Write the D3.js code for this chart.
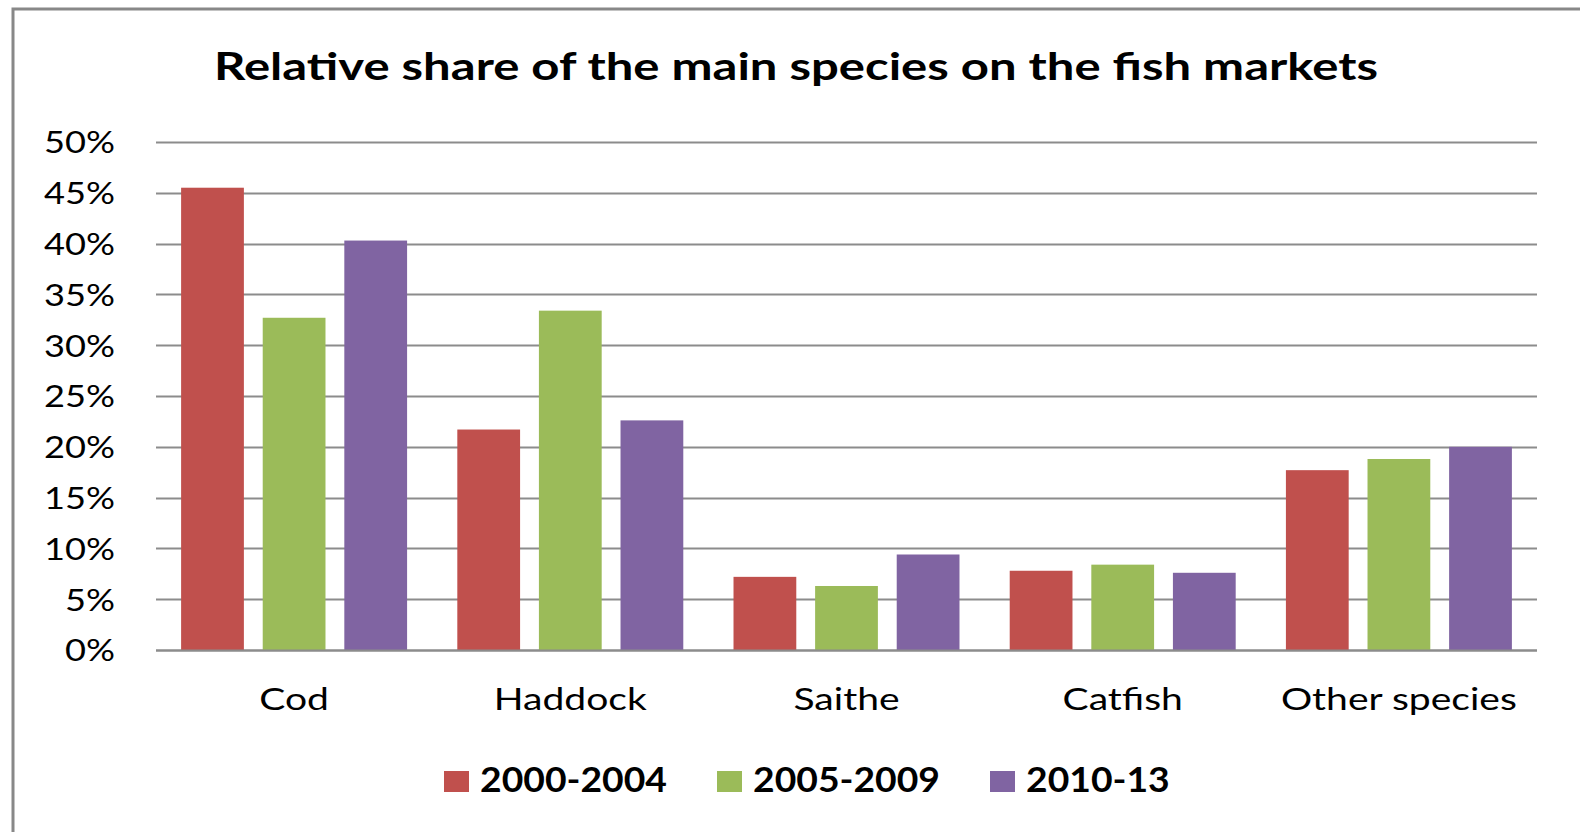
<!DOCTYPE html>
<html>
<head>
<meta charset="utf-8">
<script src="https://cdnjs.cloudflare.com/ajax/libs/d3/7.8.5/d3.min.js"></script>
<style>
  html, body { margin: 0; padding: 0; background: #fff; overflow: hidden; }
  text { font-family: Lato, "Open Sans", sans-serif; fill: #000; }
</style>
</head>
<body>
<svg id="fish-chart"></svg>
<script>
// data
const species = ["Cod", "Haddock", "Saithe", "Catfish", "Other species"];
const periods = ["2000-2004", "2005-2009", "2010-13"];
const share2000_2004 = [45.5, 21.7, 7.2, 7.8, 17.7];
const share2005_2009 = [32.7, 33.4, 6.3, 8.4, 18.8];
const share2010_13 = [40.3, 22.6, 9.4, 7.6, 20.0];
const yTicks = [0, 5, 10, 15, 20, 25, 30, 35, 40, 45, 50];
const colors = ["#c0504d", "#9bbb59", "#8064a2"];

const seriesValues = [share2000_2004, share2005_2009, share2010_13];

const W = 1580, H = 832;
const plot = { left: 156, right: 1537, top: 142, bottom: 650 };

const svg = d3.select("#fish-chart")
    .attr("width", W)
    .attr("height", H);

// outer frame (runs off the right and bottom edge in the original)
svg.append("rect")
    .attr("x", 13)
    .attr("y", 9)
    .attr("width", 1700)
    .attr("height", 1000)
    .attr("fill", "#fff")
    .attr("stroke", "#888888")
    .attr("stroke-width", 3);

// squeeze/stretch a group of labels so that one reference label hits its target width
function fitWidth(sel, refIndex, target) {
    const nodes = sel.nodes();
    const k = target / nodes[refIndex].getComputedTextLength();
    nodes.forEach(n => {
        const w = n.getComputedTextLength();
        d3.select(n).attr("textLength", w * k).attr("lengthAdjust", "spacingAndGlyphs");
    });
    return k;
}

const title = svg.append("text")
    .attr("x", 796)
    .attr("y", 80)
    .attr("text-anchor", "middle")
    .style("font-size", "38px")
    .style("font-weight", "bold")
    .text("Relative share of the main species on the fish markets");
fitWidth(title, 0, 1164);

const y = d3.scaleLinear()
    .domain([0, 50])
    .range([plot.bottom, plot.top]);

const x0 = d3.scaleBand()
    .domain(species)
    .range([plot.left, plot.right])
    .paddingInner(0.8 / 4.4)
    .paddingOuter(0.4 / 4.4);

const x1 = d3.scaleBand()
    .domain(periods)
    .range([0, x0.bandwidth()])
    .paddingInner(0.3 / 1.3)
    .paddingOuter(0);

// gridlines
svg.append("g")
    .selectAll("line")
    .data(yTicks)
    .join("line")
    .attr("x1", plot.left)
    .attr("x2", plot.right)
    .attr("y1", d => Math.round(y(d)) + 0.5)
    .attr("y2", d => Math.round(y(d)) + 0.5)
    .attr("stroke", "#8c8c8c")
    .attr("stroke-width", 2);

// y axis labels
const yAxis = svg.append("g")
    .attr("transform", "translate(115,0)")
    .call(d3.axisLeft(y).tickValues(yTicks).tickFormat(d => d + "%").tickSize(0).tickPadding(0));
yAxis.select(".domain").remove();
yAxis.selectAll("text")
    .attr("dy", "0.36em")
    .style("font-size", "30px")
    .style("font-family", "Lato, 'Open Sans', sans-serif")
    .attr("fill", "#1a1a1a");
fitWidth(yAxis.selectAll("text"), yTicks.length - 1, 71);

// bars
const rows = species.map((s, i) => ({ species: s, values: periods.map((p, j) => ({ period: p, value: seriesValues[j][i], color: colors[j] })) }));

svg.append("g")
    .selectAll("g")
    .data(rows)
    .join("g")
    .attr("transform", d => `translate(${x0(d.species)},0)`)
    .selectAll("rect")
    .data(d => d.values)
    .join("rect")
    .attr("x", d => x1(d.period))
    .attr("y", d => y(d.value))
    .attr("width", x1.bandwidth())
    .attr("height", d => y(0) - y(d.value))
    .attr("fill", d => d.color);

// baseline drawn again over bars
svg.append("line")
    .attr("x1", plot.left)
    .attr("x2", plot.right)
    .attr("y1", plot.bottom + 0.5)
    .attr("y2", plot.bottom + 0.5)
    .attr("stroke", "#8c8c8c")
    .attr("stroke-width", 2);

// category labels
const xAxis = svg.append("g")
    .attr("transform", `translate(0,${plot.bottom})`)
    .call(d3.axisBottom(x0).tickSize(0).tickPadding(0));
xAxis.select(".domain").remove();
xAxis.selectAll("text")
    .attr("dy", 0)
    .attr("y", 60)
    .style("font-size", "31px")
    .style("font-family", "Lato, 'Open Sans', sans-serif")
    .attr("fill", "#1a1a1a");
fitWidth(xAxis.selectAll("text"), species.length - 1, 236);

// legend
const legend = svg.append("g").attr("transform", "translate(444,0)");
const legendText = legend.selectAll("text")
    .data(periods)
    .join("text")
    .attr("y", 792)
    .style("font-size", "35px")
    .style("font-weight", "bold")
    .text(d => d);
const lk = 187 / legendText.node().getComputedTextLength();
let lx = 0;
legendText.each(function (d, i) {
    const t = d3.select(this);
    const w = this.getComputedTextLength() * lk;
    legend.append("rect")
        .attr("x", lx)
        .attr("y", 771)
        .attr("width", 25)
        .attr("height", 21)
        .attr("fill", colors[i]);
    t.attr("x", lx + 36)
        .attr("textLength", w)
        .attr("lengthAdjust", "spacingAndGlyphs");
    lx += 36 + w + 50;
});
</script>
</body>
</html>
